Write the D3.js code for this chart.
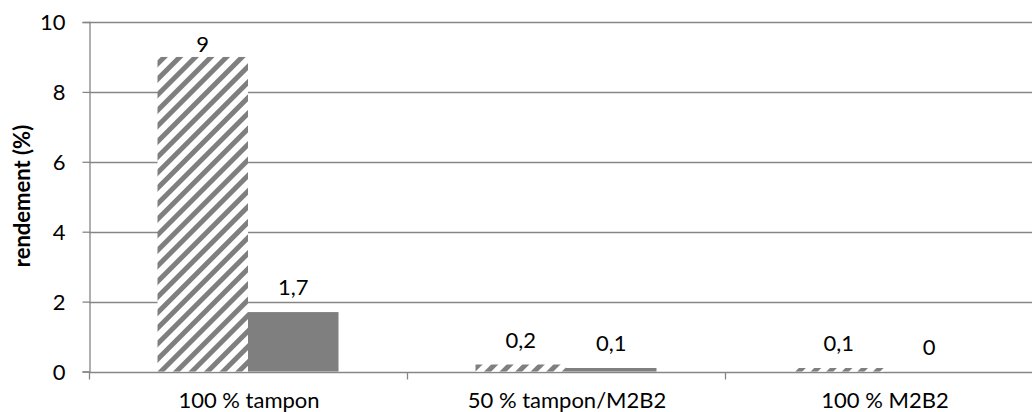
<!DOCTYPE html>
<html><head><meta charset="utf-8">
<script src="https://cdn.jsdelivr.net/npm/d3@7"></script>
<style>body{margin:0;background:#fff}svg{display:block}text{font-family:Lato,"Open Sans",sans-serif}</style>
</head><body><svg id="c" width="1032" height="412"></svg>
<script>
const categories = ["100 % tampon", "50 % tampon/M2B2", "100 % M2B2"];
const seriesHatched = [9, 0.2, 0.1];
const seriesSolid = [1.7, 0.1, 0];
const labelsHatched = ["9", "0,2", "0,1"];
const labelsSolid = ["1,7", "0,1", "0"];
const yTicks = [0, 2, 4, 6, 8, 10];

(function () {
const svg = d3.select("#c");
const mLeft = 89, mTop = 22, mBottom = 371.5, catW = 318;
const fs = 22;
const x = d3.scaleBand().domain(categories).range([mLeft, mLeft + catW * 3]).paddingInner(0).paddingOuter(0);
const y = d3.scaleLinear().domain([0, 10]).range([mBottom, mTop]);
const gray = "#7f7f7f";
const lineC = "#868686";

const defs = svg.append("defs");
const pw = 11;
const pat = defs.append("pattern").attr("id", "hatch").attr("patternUnits", "userSpaceOnUse")
  .attr("width", pw).attr("height", pw).attr("patternTransform", "rotate(45)");
pat.append("rect").attr("width", pw).attr("height", pw).attr("fill", "#fff");
pat.append("rect").attr("x", 0).attr("y", 0).attr("width", 5).attr("height", pw).attr("fill", gray);

// gridlines
svg.append("g").selectAll("line").data(yTicks).join("line")
  .attr("x1", mLeft).attr("x2", 1032).attr("y1", d => Math.round(y(d)) + 0.5).attr("y2", d => Math.round(y(d)) + 0.5)
  .attr("stroke", lineC).attr("stroke-width", 1.3);

// y axis
const ya = svg.append("g").attr("transform", `translate(${mLeft + 0.5},0)`)
  .call(d3.axisLeft(y).tickValues(yTicks).tickSize(7).tickPadding(17));
ya.select(".domain").attr("stroke", lineC).attr("stroke-width", 1.3);
ya.selectAll(".tick line").attr("stroke", lineC).attr("stroke-width", 1.3);
ya.selectAll(".tick text").attr("font-size", fs).attr("fill", "#000").attr("dy", "0.35em");

// x axis ticks and labels
const xa = svg.append("g").attr("transform", `translate(0,${Math.round(mBottom) + 0.5})`);
xa.selectAll("line.t").data([0, 1, 2, 3]).join("line")
  .attr("x1", i => mLeft + i * catW + 0.5).attr("x2", i => mLeft + i * catW + 0.5)
  .attr("y1", 0).attr("y2", 7).attr("stroke", lineC).attr("stroke-width", 1.3);
xa.selectAll("text").data(categories).join("text")
  .attr("x", d => x(d) + x.bandwidth() / 2 + 1).attr("y", 35)
  .attr("text-anchor", "middle").attr("font-size", fs).attr("fill", "#000").text(d => d);

const bw = 90.5, gap = (catW - 2 * bw) / 2;
const gb = svg.append("g");
const lblY = v => Math.max(y(v) - 17, 52);
categories.forEach((c, i) => {
  const x0 = x(c) + gap;
  const hv = seriesHatched[i], sv = seriesSolid[i];
  gb.append("rect").attr("x", x0).attr("width", bw).attr("y", y(hv)).attr("height", y(0) - y(hv)).attr("fill", "url(#hatch)");
  gb.append("rect").attr("x", x0 + bw).attr("width", bw).attr("y", y(sv)).attr("height", y(0) - y(sv)).attr("fill", gray);
  gb.append("text").attr("x", x0 + bw / 2).attr("y", lblY(hv)).attr("text-anchor", "middle").attr("font-size", fs).text(labelsHatched[i]);
  gb.append("text").attr("x", x0 + bw * 1.5).attr("y", lblY(sv)).attr("text-anchor", "middle").attr("font-size", fs).text(labelsSolid[i]);
});

svg.append("text").attr("transform", `translate(30,196) rotate(-90)`).attr("text-anchor", "middle")
  .attr("font-size", fs).attr("font-weight", "bold").text("rendement (%)");
})();
</script></body></html>
